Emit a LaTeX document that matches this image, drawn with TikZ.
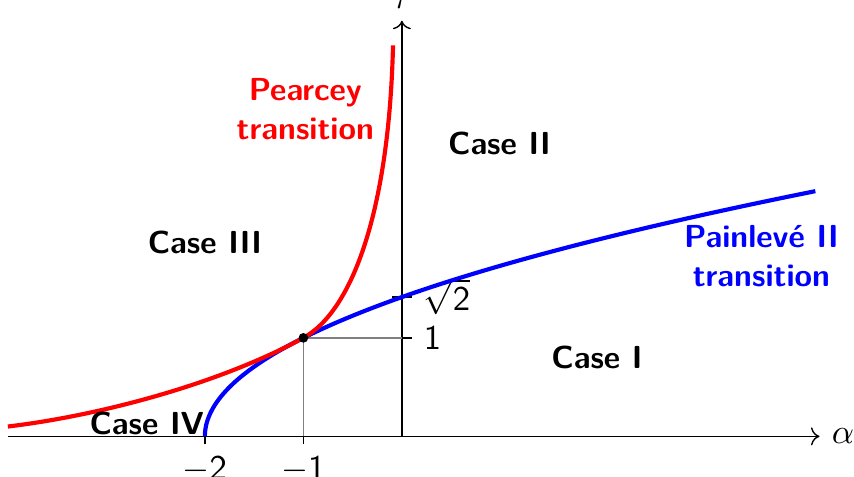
\documentclass[tikz,border=0pt]{standalone}
\usepackage{amsmath}
\usepackage{xcolor}
\usepackage{tikz}
\usetikzlibrary{arrows.meta}

\begin{document}
\begin{tikzpicture}[
    axis/.style={->, thin},
    guide/.style={gray, thin},
    painleve/.style={blue, line width=1.2pt},
    pearcey/.style={red, line width=1.2pt},
    casename/.style={font=\fontsize{9.2pt}{11.2pt}\selectfont\sffamily\bfseries, align=center},
    critdot/.style={circle, fill=black, inner sep=0pt, minimum size=2.8pt},
]
\useasboundingbox (-4.08,-0.41) rectangle (4.59,4.43);

% axes
\coordinate (xmin) at (-4.0,0);
\coordinate (xmax) at (4.24,0);
\coordinate (orig) at (0,0);
\coordinate (ymax) at (0,4.22);
\draw[axis] (xmin) -- (xmax);
\draw[axis] (orig) -- (ymax);
\node[right] (alab) at (xmax) {$\alpha$};
\node[anchor=south] (tlab) at (ymax) {$\tau$};

% ticks
\foreach \x in {2,1}
    \draw (-\x,-0.08) -- (-\x,0.08) node[pos=0, below] {$-\mathsf{\x}$};
\draw (-0.1,1) -- (0.1,1) node[right] {$\mathsf{1}$};
\draw (-0.1,1.414) -- (0.1,1.414) node[right] {$\sqrt{\mathsf{2}}$};

% guides to the critical point
\coordinate (pa) at (-1,0);
\coordinate (pb) at (0,1);
\draw[guide] (pa) -- (-1,1) -- (pb);

% critical curves
\draw[painleve] plot[domain=0:2.49, samples=120] ({\x*\x-2},{\x});
\coordinate (pleft) at (-4.0,0.10);
\coordinate (ptop) at (-0.09,3.97);
\draw[pearcey] (pleft) .. controls (-3,0.22) and (-1.8,0.56) .. (-1,1)
    .. controls (-0.5,1.275) and (-0.13,2.3) .. (ptop);
\node[critdot] (crit) at (-1,1) {};

% regions
\node[casename, text=red]  (pear) at (-0.98,3.32) {Pearcey\\transition};
\node[casename, text=blue] (pain) at (3.65,1.83)  {Painlev\'e II\\transition};
\node[casename] (c1) at (1.98,0.80)  {Case I};
\node[casename] (c2) at (0.99,2.97)  {Case II};
\node[casename] (c3) at (-2.0,1.97)  {Case III};
\node[casename] (c4) at (-2.59,0.13) {Case IV};

\end{tikzpicture}
\end{document}
